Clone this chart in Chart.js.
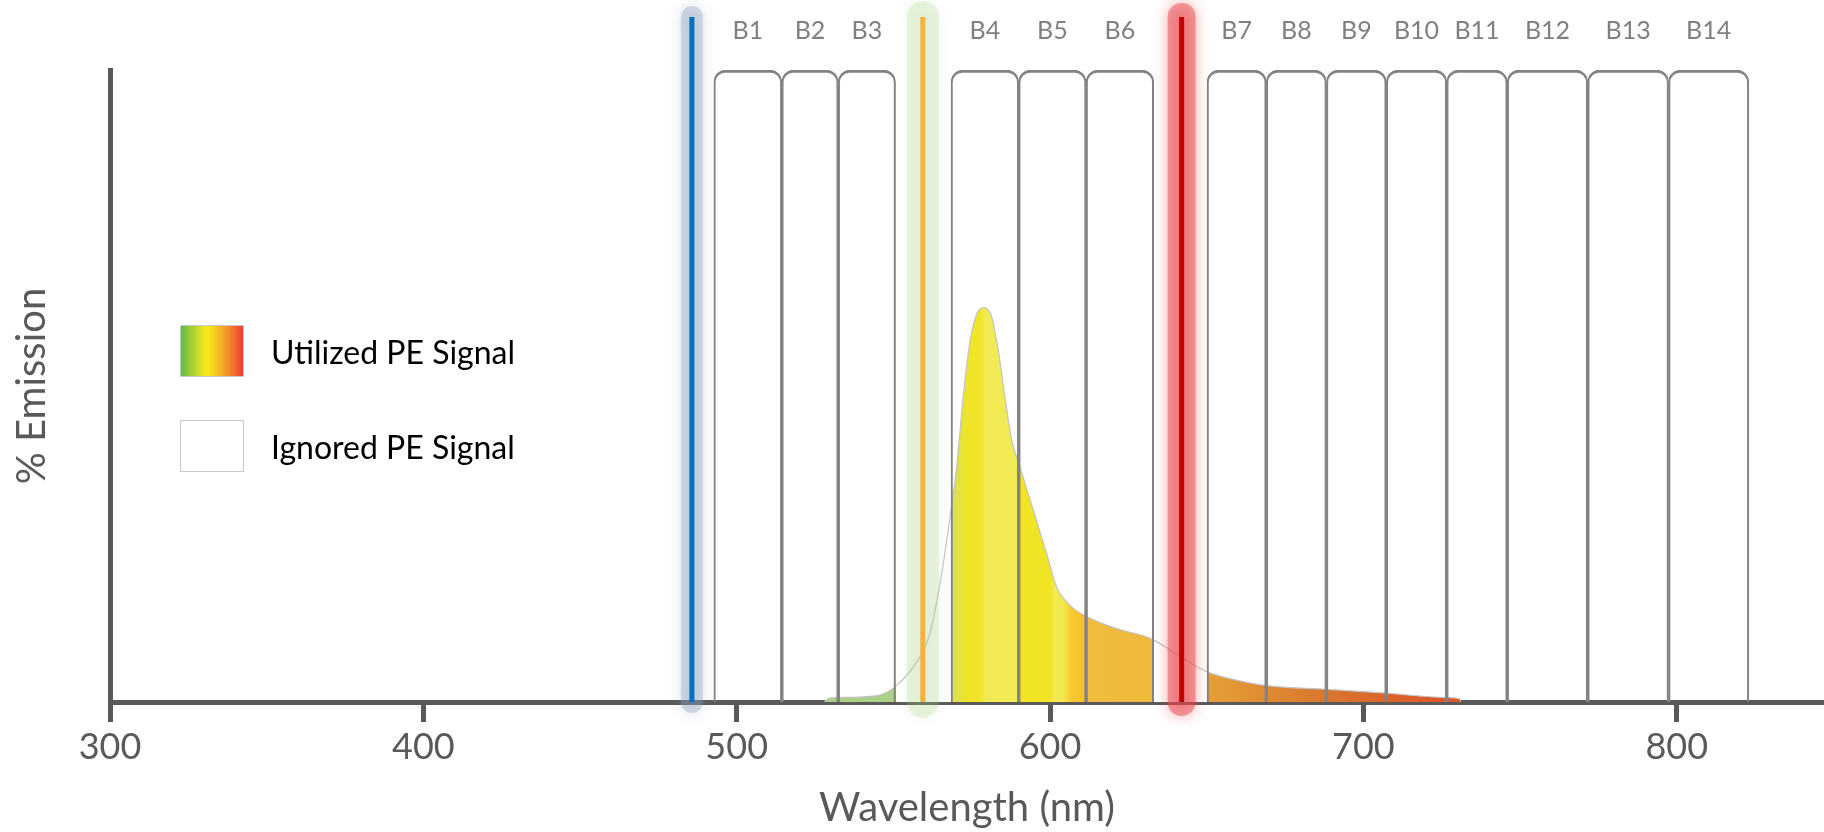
<!DOCTYPE html>
<html lang="en">
<head>
  <meta charset="UTF-8" />
  <title>PE Emission and Detector Bands</title>
  <script src="https://cdn.jsdelivr.net/npm/chart.js"></script>
  <style>
    body {
      margin: 0;
      background: #fff;
      font-family: Lato, sans-serif;
      overflow: hidden;
    }
    .wrap {
      position: relative;
      width: 1824px;
      height: 832px;
    }
    #peChart {
      position: absolute;
      left: 0;
      top: 0;
    }
    .legend {
      position: absolute;
      left: 180px;
      top: 325px;
    }
    .item {
      display: flex;
      align-items: center;
      height: 52px;
      margin-bottom: 43px;
      font-size: 32px;
      color: #000;
    }
    .swatch {
      width: 64px;
      height: 52px;
      box-sizing: border-box;
      border: 1px solid #c8c8c8;
      margin-right: 27px;
      background: #fff;
    }
    .utilized {
      background: linear-gradient(to right, #62b946, #f2e81e 38%, #f5e51c 45%, #f5922a 75%, #ec3b30);
    }
  </style>
</head>
<body>
  <div class="wrap">
    <canvas id="peChart" width="1824" height="832"></canvas>
    <div class="legend">
      <div class="item"><div class="swatch utilized"></div>Utilized PE Signal</div>
      <div class="item"><div class="swatch"></div>Ignored PE Signal</div>
    </div>
  </div>

  <script>
    // axis range and ticks (nm)
    const xMin = 300;
    const xMax = 847;
    const xTicks = [300, 400, 500, 600, 700, 800];

    // detector bands (nm)
    const bandNames = ['B1', 'B2', 'B3', 'B4', 'B5', 'B6', 'B7', 'B8', 'B9', 'B10', 'B11', 'B12', 'B13', 'B14'];
    const bandStart = [492.7, 514.4, 532.4, 568.4, 590.0, 611.5, 650.1, 669.0, 688.2, 707.3, 726.6, 745.9, 771.6, 797.4];
    const bandEnd   = [514.4, 532.4, 550.7, 590.0, 611.5, 633.1, 669.0, 688.2, 707.3, 726.6, 745.9, 771.6, 797.4, 823.0];

    // excitation lasers (nm)
    const laserNm = [485.7, 559.4, 642.0];
    const laserTop = 108.4;

    // PE emission spectrum
    const specNm  = [528, 529.5, 536, 541.5, 545.7, 550, 556.4, 561.7, 565.4, 568.1, 570.2, 572.3, 574.5, 576.6, 578.9,
                     581.4, 583.5, 585.6, 587.8, 590.4, 594.7, 598.9, 602.1, 606.4, 610.6, 621.3, 631.9, 642.5, 650.0,
                     657.4, 669.1, 688.2, 707.4, 726.5, 730.8, 731];
    const specPct = [0, 0.6, 0.75, 0.85, 1.1, 2.2, 5.6, 10.9, 20.3, 29.3, 37.2, 48.3, 57.2, 61.4, 62.4,
                     60.9, 55.6, 48.3, 41.4, 37.2, 30.3, 23.5, 18.2, 15.3, 13.8, 11.6, 10.1, 6.9, 4.8,
                     3.7, 2.6, 2.0, 1.4, 0.7, 0.5, 0];

    const laserColours = ['#0070c0', '#f9b03c', '#c00000'];
    const glowColours = ['rgba(135,155,184,0.33)', 'rgba(160,205,120,0.2)', 'rgba(232,70,74,0.48)'];
    const glowShadows = ['rgba(135,155,184,0.9)', 'rgba(160,205,120,0.7)', 'rgba(232,70,74,0.95)'];
    const glowWidths = [22, 32, 28];

    // fill colours along the spectrum; white where no band collects light
    const fillStops = [
      [bandStart[0], '#a9cf86'],
      [bandEnd[2], '#abd087'],
      [bandEnd[2], '#ffffff'],
      [bandStart[3], '#ffffff'],
      [bandStart[3], '#d0de62'],
      [573, '#efe42a'],
      [577.5, '#f0e526'],
      [579.5, '#f2ea55'],
      [bandEnd[3], '#f2ea55'],
      [bandEnd[3], '#f0e424'],
      [600, '#f0e424'],
      [601.5, '#f2ea52'],
      [604, '#f2e84e'],
      [607, '#f8c82e'],
      [bandEnd[4], '#f5be25'],
      [bandEnd[4], '#f1bb3e'],
      [bandEnd[5], '#f0b93a'],
      [bandEnd[5], '#ffffff'],
      [bandStart[6], '#ffffff'],
      [bandStart[6], '#e5a036'],
      [bandEnd[6], '#de8a31'],
      [bandEnd[7], '#d9762e'],
      [bandEnd[8], '#db652b'],
      [bandEnd[9], '#e0552a'],
      [xMax, '#e24a26']
    ];

    function peFill(context) {
      const chart = context.chart;
      if (!chart.chartArea) return 'rgba(0,0,0,0)';
      const x = chart.scales.x;
      const p0 = x.getPixelForValue(xMin);
      const p1 = x.getPixelForValue(xMax);
      const g = chart.ctx.createLinearGradient(p0, 0, p1, 0);
      fillStops.forEach(([nm, c]) => {
        g.addColorStop((x.getPixelForValue(nm) - p0) / (p1 - p0), c);
      });
      return g;
    }

    // soft glow round the laser lines
    const glowPlugin = {
      id: 'laserGlow',
      beforeDatasetDraw(chart, args) {
        const ds = chart.data.datasets[args.index];
        if (!ds.glowShadow) return;
        chart.ctx.save();
        chart.ctx.shadowColor = ds.glowShadow;
        chart.ctx.shadowBlur = 14;
      },
      afterDatasetDraw(chart, args) {
        const ds = chart.data.datasets[args.index];
        if (ds.glowShadow) chart.ctx.restore();
      }
    };

    const laserSets = laserNm.map((nm, i) => ({
      type: 'line',
      data: [{ x: nm, y: 0 }, { x: nm, y: laserTop }],
      borderColor: laserColours[i],
      borderWidth: 5,
      pointRadius: 0,
      fill: false,
      clip: false,
      order: 0
    }));

    const glowSets = laserNm.map((nm, i) => ({
      type: 'line',
      data: [{ x: nm, y: 0 }, { x: nm, y: laserTop }],
      borderColor: glowColours[i],
      borderWidth: glowWidths[i],
      borderCapStyle: 'round',
      pointRadius: 0,
      fill: false,
      clip: false,
      glowShadow: glowShadows[i],
      order: 1
    }));

    const bandSets = bandNames.map((name, i) => ({
      type: 'bar',
      label: name,
      indexAxis: 'y',
      xAxisID: 'x',
      yAxisID: 'yBand',
      data: [[bandStart[i], bandEnd[i]]],
      grouped: false,
      barPercentage: 1,
      categoryPercentage: 1,
      backgroundColor: 'rgba(0,0,0,0)',
      borderColor: '#838383',
      borderWidth: { top: 2.5, left: 1.4, right: 1.4, bottom: 0 },
      borderRadius: { topLeft: 12, topRight: 12, bottomLeft: 0, bottomRight: 0 },
      borderSkipped: false,
      order: 2
    }));

    const peSet = {
      type: 'line',
      label: 'PE',
      data: specNm.map((nm, i) => ({ x: nm, y: specPct[i] })),
      borderColor: '#c4c4c4',
      borderWidth: 1.2,
      backgroundColor: peFill,
      fill: 'origin',
      pointRadius: 0,
      cubicInterpolationMode: 'monotone',
      order: 3
    };

    Chart.defaults.font.family = 'Lato';

    new Chart(document.getElementById('peChart'), {
      type: 'line',
      data: {
        datasets: [...laserSets, ...glowSets, ...bandSets, peSet]
      },
      options: {
        responsive: false,
        animation: false,
        devicePixelRatio: 1,
        layout: { padding: 0 },
        plugins: {
          legend: { display: false },
          tooltip: { enabled: false }
        },
        scales: {
          x: {
            type: 'linear',
            position: 'bottom',
            min: xMin,
            max: xMax,
            afterBuildTicks: axis => { axis.ticks = xTicks.map(v => ({ value: v })); },
            afterFit: axis => { axis.height = 130; },
            ticks: {
              color: '#595959',
              font: { size: 36 },
              padding: 4,
              autoSkip: false,
              maxRotation: 0
            },
            grid: {
              drawOnChartArea: false,
              drawTicks: true,
              tickLength: 20,
              color: '#595959',
              lineWidth: 5
            },
            border: { display: true, color: '#595959', width: 5 },
            title: {
              display: true,
              text: 'Wavelength (nm)',
              color: '#595959',
              font: { size: 40 },
              padding: { top: 0, bottom: 0 }
            }
          },
          xTop: {
            type: 'linear',
            axis: 'x',
            position: 'top',
            min: xMin,
            max: xMax,
            afterBuildTicks: axis => {
              axis.ticks = bandNames.map((n, i) => ({ value: (bandStart[i] + bandEnd[i]) / 2 }));
            },
            afterFit: axis => { axis.height = 70; },
            ticks: {
              color: '#808080',
              font: { size: 25 },
              padding: 24,
              autoSkip: false,
              maxRotation: 0,
              callback: (v, i) => bandNames[i]
            },
            grid: { display: false, drawTicks: false },
            border: { display: false }
          },
          y: {
            type: 'linear',
            position: 'left',
            min: 0,
            max: 100,
            afterFit: axis => { axis.width = 110; },
            ticks: { display: false },
            grid: { display: false, drawTicks: false },
            border: { display: true, color: '#595959', width: 5 },
            title: {
              display: true,
              text: '% Emission',
              color: '#595959',
              font: { size: 40 },
              padding: { top: 8, bottom: 0 }
            }
          },
          yBand: {
            type: 'category',
            axis: 'y',
            labels: ['band'],
            offset: true,
            display: false
          }
        }
      },
      plugins: [glowPlugin]
    });
  </script>
</body>
</html>
